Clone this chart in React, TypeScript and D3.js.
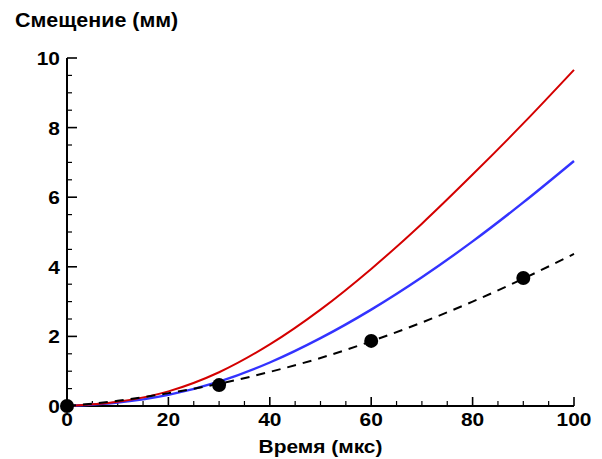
import React, { useEffect, useRef } from 'react';
import * as d3 from 'd3';

// время, мкс
const timeGrid = [0, 10, 20, 30, 40, 50, 60, 70, 80, 90, 100];
// смещение, мм
const redValues = [0, 0.12, 0.42, 0.97, 1.77, 2.77, 3.94, 5.24, 6.65, 8.12, 9.66];
const blueValues = [0, 0.1, 0.32, 0.7, 1.25, 1.95, 2.77, 3.7, 4.73, 5.85, 7.04];
const fitValues = [0, 0.15, 0.37, 0.64, 0.98, 1.38, 1.86, 2.4, 3.0, 3.66, 4.37];
// эксперимент
const expTime = [0, 30, 60, 90];
const expValues = [0, 0.6, 1.87, 3.68];

const xTicks = [0, 20, 40, 60, 80, 100];
const yTicks = [0, 2, 4, 6, 8, 10];

export default function App() {
  const ref = useRef<SVGSVGElement>(null);

  useEffect(() => {
    const width = 602;
    const height = 459;
    const margin = { left: 67, right: 28, top: 58, bottom: 53 };
    const svg = d3.select(ref.current);
    svg.selectAll('*').remove();

    const x = d3.scaleLinear().domain([0, 100]).range([margin.left, width - margin.right]);
    const y = d3.scaleLinear().domain([0, 10]).range([height - margin.bottom, margin.top]);
    const font = "'Liberation Sans', Arial, sans-serif";

    const g = svg.append('g');

    // текст чуть шире обычного Arial
    const label = (px: number, py: number, txt: string, size: number, anchor: string) =>
      g.append('text')
        .attr('transform', `translate(${px},${py}) scale(1.1,1)`)
        .attr('text-anchor', anchor)
        .attr('font-family', font).attr('font-weight', 'bold').attr('font-size', size)
        .text(txt);

    // минорные деления
    const xMinor = d3.range(0, 101, 5).filter((v) => v % 20 !== 0);
    const yMinor = d3.range(0, 10.01, 0.5).filter((v) => Math.abs(v % 2) > 0.01);

    g.selectAll('.xmaj').data(xTicks).enter().append('line')
      .attr('x1', (d) => x(d)).attr('x2', (d) => x(d))
      .attr('y1', y(0)).attr('y2', y(0) - 9)
      .attr('stroke', '#000').attr('stroke-width', 1.6);
    g.selectAll('.xmin').data(xMinor).enter().append('line')
      .attr('x1', (d) => x(d)).attr('x2', (d) => x(d))
      .attr('y1', y(0)).attr('y2', y(0) - 5)
      .attr('stroke', '#000').attr('stroke-width', 1.2);
    g.selectAll('.ymaj').data(yTicks).enter().append('line')
      .attr('x1', x(0)).attr('x2', x(0) + 10)
      .attr('y1', (d) => y(d)).attr('y2', (d) => y(d))
      .attr('stroke', '#000').attr('stroke-width', 1.6);
    g.selectAll('.ymin').data(yMinor).enter().append('line')
      .attr('x1', x(0)).attr('x2', x(0) + 5)
      .attr('y1', (d) => y(d)).attr('y2', (d) => y(d))
      .attr('stroke', '#000').attr('stroke-width', 1.2);

    // оси
    g.append('line').attr('x1', x(0)).attr('x2', x(100)).attr('y1', y(0)).attr('y2', y(0))
      .attr('stroke', '#000').attr('stroke-width', 2);
    g.append('line').attr('x1', x(0)).attr('x2', x(0)).attr('y1', y(0)).attr('y2', y(10))
      .attr('stroke', '#000').attr('stroke-width', 2);

    xTicks.forEach((d) => label(x(d), y(0) + 20, String(d), 19, 'middle'));
    yTicks.forEach((d) => label(x(0) - 7, y(d) + 7, String(d), 19, 'end'));

    label(15, 27, 'Смещение (мм)', 19.5, 'start');
    label(x(50), 453, 'Время (мкс)', 19, 'middle');

    const line = d3.line<number>()
      .x((_, i) => x(timeGrid[i]))
      .curve(d3.curveMonotoneX);

    g.append('path').attr('d', line.y((d) => y(d))(blueValues))
      .attr('fill', 'none').attr('stroke', '#3333ff').attr('stroke-width', 2.4);
    g.append('path').attr('d', line.y((d) => y(d))(redValues))
      .attr('fill', 'none').attr('stroke', '#d40000').attr('stroke-width', 2);
    g.append('path').attr('d', line.y((d) => y(d))(fitValues))
      .attr('fill', 'none').attr('stroke', '#000').attr('stroke-width', 2)
      .attr('stroke-dasharray', '9,7');

    g.selectAll('.pt').data(expValues).enter().append('circle')
      .attr('cx', (_, i) => x(expTime[i])).attr('cy', (d) => y(d))
      .attr('r', 7).attr('fill', '#000');
  }, []);

  return (
    <svg ref={ref} width={602} height={459}
      style={{ position: 'absolute', left: 0, top: 0, background: '#fff' }} />
  );
}
